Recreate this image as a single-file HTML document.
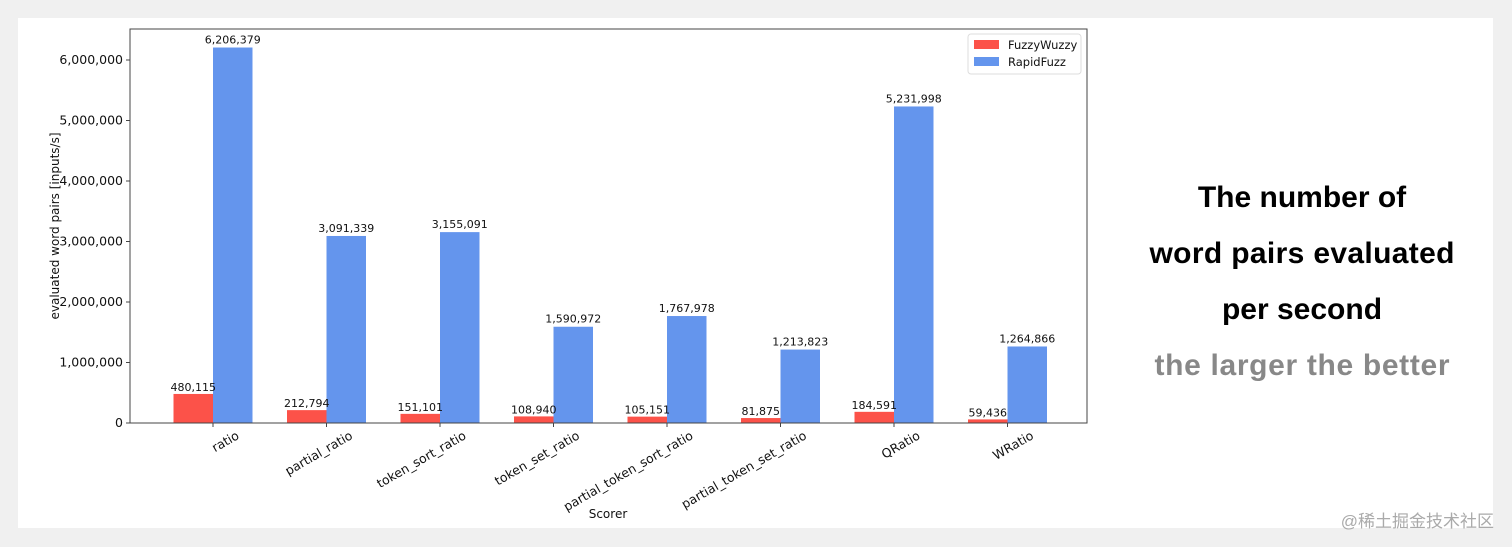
<!DOCTYPE html>
<html><head><meta charset="utf-8"><style>
body{margin:0;background:#f0f0f0;}
svg{display:block;font-family:"DejaVu Sans","Liberation Sans",sans-serif;}
</style></head><body>
<svg id="c" width="1512" height="547" xmlns="http://www.w3.org/2000/svg">
<rect x="0" y="0" width="1512" height="547" fill="#f0f0f0"/>
<rect x="18" y="18" width="1475" height="510" fill="#ffffff"/>
<g id="plot"></g>
<rect x="130" y="29" width="957" height="394" fill="none" stroke="#444" stroke-width="1"/>
<text x="59" y="226" font-size="12" text-anchor="middle" transform="rotate(-90 59 226)" fill="#111">evaluated word pairs [inputs/s]</text>
<text x="608" y="518" font-size="12" text-anchor="middle" fill="#111">Scorer</text>
<g>
<rect x="968" y="34" width="113" height="40" rx="3" fill="#fff" stroke="#ddd"/>
<rect x="974" y="40" width="25" height="9" fill="#fc5249"/>
<text x="1008" y="49" font-size="11.5" fill="#111">FuzzyWuzzy</text>
<rect x="974" y="57" width="25" height="9" fill="#6495ed"/>
<text x="1008" y="66" font-size="11.5" fill="#111">RapidFuzz</text>
</g>
<g font-family="'Liberation Sans',sans-serif" font-weight="bold" font-size="30" text-anchor="middle">
<text x="1302" y="207" fill="#000">The number of</text>
<text x="1302" y="263" fill="#000" textLength="305">word pairs evaluated</text>
<text x="1302" y="319" fill="#000">per second</text>
<text x="1302" y="375" fill="#888" textLength="295">the larger the better</text>
</g>
<text x="1494" y="527" font-size="17" text-anchor="end" fill="#aaa" font-family="'Liberation Sans','Noto Sans CJK SC',sans-serif">@稀土掘金技术社区</text>
</svg>
<script>
const categories=["ratio","partial_ratio","token_sort_ratio","token_set_ratio","partial_token_sort_ratio","partial_token_set_ratio","QRatio","WRatio"];
const fuzzyWuzzy=[480115,212794,151101,108940,105151,81875,184591,59436];
const rapidFuzz=[6206379,3091339,3155091,1590972,1767978,1213823,5231998,1264866];
const yTicks=[0,1000000,2000000,3000000,4000000,5000000,6000000];
const NS="http://www.w3.org/2000/svg";
const g=document.getElementById('plot');
const y0=423,pxPerUnit=60.5/1e6,x0=213,step=113.5,bw=39.5;
const y=v=>y0-v*pxPerUnit;
const x=i=>x0+i*step;
const fmt=v=>v.toLocaleString('en-US');
function mk(t,a){const e=document.createElementNS(NS,t);for(const k in a)e.setAttribute(k,a[k]);g.appendChild(e);return e;}
yTicks.forEach(v=>{
 const l=mk('line',{x1:126,x2:130,y1:y(v),y2:y(v),stroke:'#444'});
 
 
 const t=mk('text',{x:123,y:y(v)+4,'font-size':12.5,'text-anchor':'end',fill:'#111'});
 t.textContent=fmt(v);
 
 
});
categories.forEach((c,i)=>{
 const cx=x(i);
 const r=mk('rect',{x:cx-bw,y:y(fuzzyWuzzy[i]),width:bw,height:y0-y(fuzzyWuzzy[i]),fill:'#fc5249'});
 
 
 const b=mk('rect',{x:cx,y:y(rapidFuzz[i]),width:bw,height:y0-y(rapidFuzz[i]),fill:'#6495ed'});
 
 
 const t1=mk('text',{x:cx-bw/2,y:y(fuzzyWuzzy[i])-3,'font-size':11,'text-anchor':'middle',fill:'#111'});
 t1.textContent=fmt(fuzzyWuzzy[i]);
 
 
 const t2=mk('text',{x:cx+bw/2,y:y(rapidFuzz[i])-4,'font-size':11,'text-anchor':'middle',fill:'#111'});
 t2.textContent=fmt(rapidFuzz[i]);
 
 
 const tk=mk('line',{x1:cx,x2:cx,y1:423,y2:427,stroke:'#444'});
 
 
 const lb=mk('text',{x:cx+27,y:438,'font-size':12.5,'text-anchor':'end',fill:'#111',transform:`rotate(-30 ${cx+27} 438)`});
 lb.textContent=c;
 
 
});
</script>
</body></html>
